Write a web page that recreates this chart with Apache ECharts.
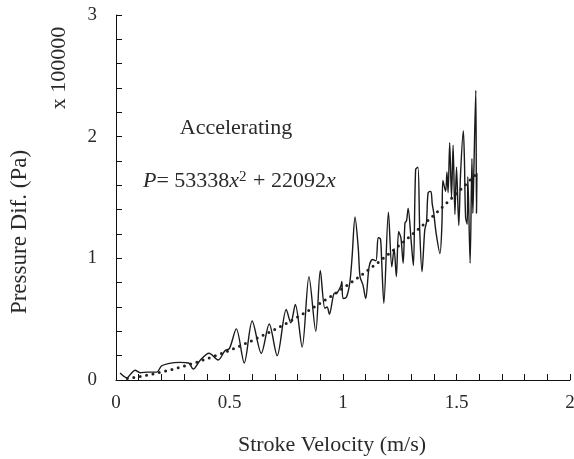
<!DOCTYPE html>
<html>
<head>
<meta charset="utf-8">
<script src="https://cdn.jsdelivr.net/npm/echarts@6/dist/echarts.min.js"></script>
<style>html,body{margin:0;padding:0;background:#fff}#c{width:574px;height:459px}</style>
</head>
<body>
<div id="c"></div>
<script>
// Measured pressure difference (x 100000 Pa) vs stroke velocity (m/s)
var measuredX = [0.018,0.035,0.048,0.065,0.084,0.106,0.14,0.18,0.2,0.23,0.28,0.32,0.34,0.37,0.41,0.45,0.48,0.50,0.53,0.565,0.60,0.64,0.675,0.71,0.75,0.77,0.79,0.82,0.85,0.88,0.90,0.92,0.93,0.94,0.96,0.975,0.99,0.995,1.0,1.015,1.03,1.04,1.053,1.067,1.075,1.088,1.10,1.115,1.13,1.145,1.155,1.165,1.17,1.18,1.20,1.215,1.225,1.235,1.245,1.255,1.265,1.273,1.28,1.287,1.30,1.31,1.32,1.33,1.338,1.348,1.36,1.368,1.375,1.387,1.393,1.40,1.41,1.427,1.436,1.44,1.452,1.458,1.463,1.47,1.478,1.485,1.493,1.50,1.51,1.518,1.53,1.535,1.54,1.547,1.55,1.56,1.568,1.572,1.576,1.585,1.588,1.59];
var measuredY = [0.058,0.03,0.016,0.05,0.08,0.06,0.065,0.065,0.115,0.135,0.145,0.14,0.09,0.16,0.22,0.165,0.24,0.26,0.42,0.14,0.485,0.22,0.46,0.20,0.58,0.47,0.62,0.27,0.85,0.40,0.90,0.59,0.60,0.54,0.71,0.72,0.77,0.81,0.67,0.68,0.80,1.01,1.34,1.09,0.85,0.78,0.67,0.93,0.99,0.98,1.17,1.16,0.99,0.63,1.38,0.93,1.08,0.85,1.22,1.17,0.96,1.29,1.31,1.41,1.15,0.94,1.73,1.75,1.23,0.89,1.23,1.30,1.54,1.55,1.45,1.37,1.21,1.04,1.29,1.64,1.55,1.71,1.54,1.95,1.50,1.93,1.36,1.75,1.27,1.70,2.05,1.80,1.34,1.28,1.67,0.96,1.82,1.37,1.68,2.38,1.37,1.70];
// Fitted curve values
var fitX = [0.05,0.1,0.15,0.2,0.25,0.3,0.35,0.4,0.45,0.5,0.55,0.6,0.65,0.7,0.75,0.8,0.85,0.9,0.95,1.0,1.05,1.1,1.15,1.2,1.25,1.3,1.35,1.4,1.45,1.5,1.55,1.6];
var fitY = [0.0124,0.0274,0.0451,0.0655,0.0886,0.1143,0.1427,0.1737,0.2074,0.2438,0.2828,0.3246,0.3690,0.4160,0.4657,0.5181,0.5731,0.6309,0.6913,0.7543,0.8200,0.8884,0.9595,1.0332,1.1096,1.1886,1.2703,1.3547,1.4418,1.5315,1.6238,1.7189];
var xTicks = [0, 0.5, 1, 1.5, 2];
var yTicks = [0, 1, 2, 3];

function pairs(xs, ys){ return xs.map(function(x,i){ return [x, ys[i]]; }); }

var FONT = 'Liberation Serif';
var TXT = '#2a2a2a';
var chart = echarts.init(document.getElementById('c'), null, {renderer:'canvas'});
chart.setOption({
  animation: false,
  backgroundColor: '#fff',
  grid: {left:116, right:4, top:15, bottom:79, containLabel:false, outerBoundsMode:'none'},
  xAxis: {
    type:'value', min:xTicks[0], max:xTicks[xTicks.length-1], interval:0.5,
    axisLine:{show:true, onZero:false, lineStyle:{color:'#111', width:1}},
    axisTick:{show:true, inside:true, length:6, lineStyle:{color:'#111'}},
    minorTick:{show:true, splitNumber:5, length:6, lineStyle:{color:'#111'}},
    splitLine:{show:false},
    axisLabel:{fontFamily:FONT, fontSize:19, color:TXT, margin:14}
  },
  yAxis: {
    type:'value', min:yTicks[0], max:yTicks[yTicks.length-1], interval:1,
    axisLine:{show:true, onZero:false, lineStyle:{color:'#111', width:1}},
    axisTick:{show:true, inside:true, length:6, lineStyle:{color:'#111'}},
    minorTick:{show:true, splitNumber:5, length:6, lineStyle:{color:'#111'}},
    splitLine:{show:false},
    axisLabel:{fontFamily:FONT, fontSize:19, color:TXT, margin:19}
  },
  series: [
    {type:'line', data:pairs(measuredX, measuredY), showSymbol:false, smooth:0.3,
     lineStyle:{color:'#1a1a1a', width:1.4}, z:2},
    {type:'line', data:pairs(fitX, fitY), showSymbol:false,
     lineStyle:{color:'#222', width:3, type:[0,6.5], cap:'round'}, z:3}
  ],
  graphic: [
    {type:'text', x:59, y:68, rotation:Math.PI/2,
     style:{text:'x 100000', font:'22px "Liberation Serif"', fill:TXT, align:'center', verticalAlign:'middle'}},
    {type:'text', x:20, y:232, rotation:Math.PI/2,
     style:{text:'Pressure Dif. (Pa)', font:'23px "Liberation Serif"', fill:TXT, align:'center', verticalAlign:'middle'}},
    {type:'text', x:332, y:445,
     style:{text:'Stroke Velocity (m/s)', font:'22px "Liberation Serif"', fill:TXT, align:'center', verticalAlign:'middle'}},
    {type:'text', x:236, y:128,
     style:{text:'Accelerating', font:'22px "Liberation Serif"', fill:TXT, align:'center', verticalAlign:'middle'}},
    {type:'text', x:143, y:181,
     style:{text:'{i|P}= 53338{i|x}{s|2} + 22092{i|x}', font:'22px "Liberation Serif"', fill:TXT, align:'left', verticalAlign:'middle',
       rich:{
         i:{fontStyle:'italic', fontFamily:FONT, fontSize:22, fill:TXT},
         s:{fontFamily:FONT, fontSize:15, fill:TXT, verticalAlign:'top', padding:[0,1,8,0]}
       }}}
  ]
});
</script>
</body>
</html>
